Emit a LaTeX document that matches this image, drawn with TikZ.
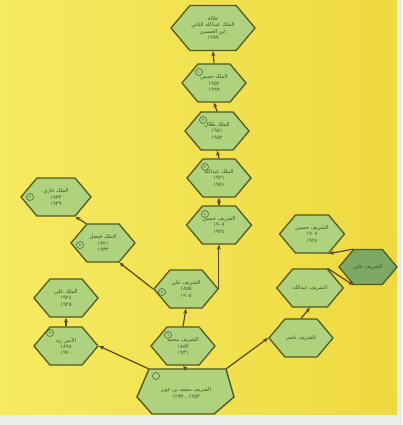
\documentclass[tikz,border=0pt]{standalone}
\usepackage{fontspec}
\usetikzlibrary{shapes.symbols,arrows.meta}
\newfontfamily\arabicfont[Script=Arabic]{DejaVu Sans}
\TeXXeTstate=1
\newcommand{\arl}[1]{\beginR #1\endR}
\definecolor{bgyel}{HTML}{F6EA62}
\definecolor{bgyel2}{HTML}{EEDA3E}
\definecolor{hexfill}{HTML}{AFD27E}
\definecolor{hexdark}{HTML}{7DA866}
\definecolor{hexline}{HTML}{545A1C}
\definecolor{edgecol}{HTML}{54481A}
\definecolor{txtcol}{HTML}{3A5620}
\definecolor{stripcol}{HTML}{ECECE8}
\tikzset{
  hexbox/.style={signal, signal to=east and west, signal pointer angle=100,
    draw=hexline, line width=1.3pt, fill=hexfill, inner sep=0pt,
    minimum width=64pt, minimum height=38pt, text=txtcol, align=center,
    font=\arabicfont\fontsize{5.3}{6.3}\selectfont},
  conn/.style={draw=edgecol, line width=1.2pt, -{Stealth[length=5pt,width=4pt]}},
  numdot/.style={circle, draw=txtcol, line width=0.5pt, inner sep=0pt, minimum size=7pt,
    font=\arabicfont\fontsize{4}{4}\selectfont, text=txtcol}
}
\begin{document}
\begin{tikzpicture}[x=1pt,y=-1pt]
\useasboundingbox (0,0) rectangle (402,425);
\fill[stripcol] (0,0) rectangle (402,425);
\shade[left color=bgyel, right color=bgyel2] (0,0) rectangle (397,414);

% main column
\node[hexbox, minimum width=84pt, minimum height=45pt] (top) at (213,28)
  {\arl{جلالة}\\\arl{الملك عبدالله الثاني}\\\arl{ابن الحسين}\\١٩٩٩};
\node[hexbox] (n2) at (214,83) {\arl{الملك حسين}\\١٩٥٢\\١٩٩٩};
\node[hexbox] (n3) at (217,131) {\arl{الملك طلال}\\١٩٥١\\١٩٥٢};
\node[hexbox] (n4) at (219,178) {\arl{الملك عبدالله}\\١٩٢١\\١٩٥١};
\node[hexbox] (n5) at (219,225) {\arl{الشريف حسين}\\١٩٠٨\\١٩٢٤};
\node[hexbox] (m) at (186,289) {\arl{الشريف علي}\\١٨٥٥\\١٩٠٥};
\node[hexbox] (ml) at (183,346) {\arl{الشريف محمد}\\١٨٥٣\\١٩٣١};

% left branch
\node[hexbox, minimum width=70pt] (l1) at (56,197) {\arl{الملك غازي}\\١٩٣٣\\١٩٣٩};
\node[hexbox] (l2) at (103,243) {\arl{الملك فيصل}\\١٩٢١\\١٩٣٣};
\node[hexbox] (l3) at (66,298) {\arl{الملك علي}\\١٩٢٤\\١٩٢٥};
\node[hexbox] (l4) at (66,346) {\arl{الأمير زيد}\\١٨٩٨\\١٩٧٠};

% right branch
\node[hexbox] (r1) at (301,338) {\arl{الشريف ناصر}};
\node[hexbox] (r2) at (310,288) {\arl{الشريف عبدالله}};
\node[hexbox] (r3) at (312,234) {\arl{الشريف حسين}\\١٩٠٨\\١٩٢٤};
\node[hexbox, fill=hexdark, minimum width=52pt, minimum height=35pt] (r4) at (368,267) {\arl{الشريف علي}};

% bottom founder (pentagon-like)
\coordinate (btl) at (149,369);
\coordinate (btr) at (226,369);
\draw[draw=hexline, line width=1.4pt, fill=hexfill]
  (btl) -- (btr) -- (234,397) -- (214,414) -- (152,414) -- (137,397) -- cycle;
\node[text=txtcol, align=center, font=\arabicfont\fontsize{5.3}{6.5}\selectfont] (b) at (186,393)
  {\arl{الشريف محمد بن عون}\\\arl{١٢٥٣ ـ ١٢٩٣}};

% number circles
\node[numdot] (c1) at (199,72) {١};
\node[numdot] (c2) at (203,120) {٢};
\node[numdot] (c3) at (205,167) {٣};
\node[numdot] (c4) at (205,214) {٤};
\node[numdot] (c5) at (162,292) {٥};
\node[numdot] (c6) at (168,335) {٦};
\node[numdot] (c7) at (30,197) {٧};
\node[numdot] (c8) at (80,245) {٨};
\node[numdot] (c9) at (50,333) {٩};
\node[numdot] (c10) at (156,376) {};

% connectors
\draw[conn] (n2.north) -- (top.south);
\draw[conn] (n3.north) -- (n2.south);
\draw[conn] (n4.north) -- (n3.south);
\draw[conn] (n5.north) -- (n4.south);
\draw[conn] (m.east) -- (m.east |- n5.south);
\draw[conn] (ml.north) -- (m.south);
\draw[conn] (b.north |- btl) -- (ml.south);
\draw[conn] (m.west) -- (l2.south east);
\draw[conn] (l2.north west) -- (l1.south east);
\draw[conn] (btl) -- (l4.east);
\draw[conn] (l4.north) -- (l3.south);
\draw[conn] (btr) -- (r1.west);
\draw[conn] (r1.north) -- (r2.south);
\draw[conn] (r2.north east) -- (r4.south west);
\draw[conn] (r4.north west) -- (r3.south east);
\end{tikzpicture}
\end{document}
